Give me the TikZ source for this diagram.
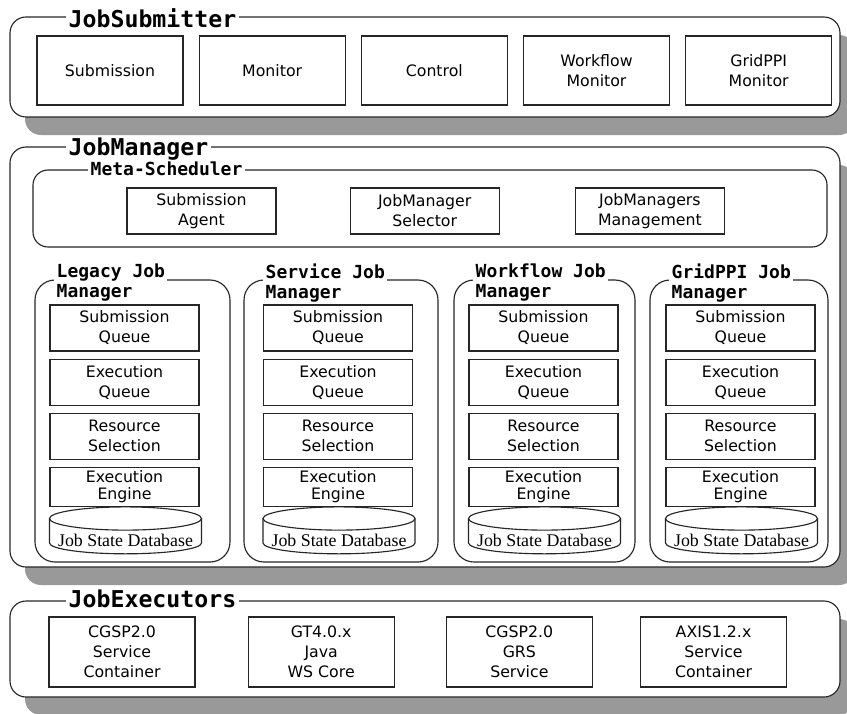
\documentclass[tikz,border=0pt]{standalone}
\usepackage{fontspec}
\setmainfont{DejaVu Sans}
\newfontfamily\titlefont{DejaVu Sans Mono}
\newfontfamily\dbfont{Liberation Serif}
\usetikzlibrary{positioning}
\definecolor{shadowgray}{RGB}{153,153,153}

\begin{document}
\begin{tikzpicture}[x=0.025cm,y=-0.025cm,
  ink/.style={draw=black!85,line width=0.8pt},
  panel/.style={ink,fill=white,rounded corners=0.4cm},
  shadowfill/.style={fill=shadowgray,rounded corners=0.4cm},
  bigtitle/.style={fill=white,inner xsep=0.06cm,inner ysep=0.04cm,anchor=base west,font=\titlefont\bfseries\fontsize{16.5}{18}\selectfont},
  midtitle/.style={bigtitle,font=\titlefont\bfseries\fontsize{12.8}{14.2}\selectfont},
  jmtitle/.style={midtitle,anchor=north west,align=left},
  box/.style={ink,align=center,inner sep=0pt,font=\fontsize{11.2}{14.2}\selectfont},
  jsbox/.style={box,minimum width=3.65cm,minimum height=1.725cm},
  msbox/.style={box,minimum width=3.725cm,minimum height=1.15cm},
  stackbox/.style={box,minimum width=3.725cm,minimum height=1.15cm},
  engbox/.style={stackbox,minimum height=0.975cm,font=\fontsize{11.2}{12.4}\selectfont},
  jebox/.style={box,minimum width=3.65cm,minimum height=1.75cm},
  dbtext/.style={font=\dbfont\fontsize{12.7}{14}\selectfont,inner sep=0pt,anchor=base}]

\useasboundingbox (0,0) rectangle (847,713);
\clip (0,0) rectangle (847,713);

% shadows
\fill[shadowfill] (25,35) rectangle (855,135);
\fill[shadowfill] (25,165) rectangle (855,585);
\fill[shadowfill] (25,619) rectangle (855,715);

% JobSubmitter
\draw[panel] (10,17) rectangle (840,117);
\node[bigtitle] (js) at (66,27) {JobSubmitter};
\node[jsbox] (sub) at (110,70.5) {Submission};
\node[jsbox,right=0.375cm of sub] (mon) {Monitor};
\node[jsbox,right=0.375cm of mon] (ctl) {Control};
\node[jsbox,right=0.375cm of ctl] (wfm) {Workflow\\Monitor};
\node[jsbox,right=0.375cm of wfm] (gpm) {GridPPI\\Monitor};

% JobManager
\draw[panel] (10,147) rectangle (840,567);
\node[bigtitle] (jm) at (66,155) {JobManager};
\draw[panel,rounded corners=0.375cm] (33,170) rectangle (827,247);
\node[midtitle] (ms) at (88,175) {Meta-Scheduler};
\node[msbox] (sa) at (201.5,211) {Submission\\Agent};
\node[msbox,right=1.825cm of sa] (sel) {JobManager\\Selector};
\node[msbox,right=1.875cm of sel] (mgt) {JobManagers\\Management};

\foreach \i/\fl/\fr/\cx/\name in {1/35/230/124.5/{Legacy Job\\Manager},
    2/244/438/338/{Service Job\\Manager},
    3/454/635/543.5/{Workflow Job\\Manager},
    4/650/828/740.5/{GridPPI Job\\Manager}}{
  \draw[panel,rounded corners=0.5cm] (\fl,280) rectangle (\fr,562);
  \node[jmtitle] (jmt\i) at (\fl+19,262) {\name};
  \node[stackbox] (sq\i) at (\cx,328) {Submission\\Queue};
  \node[stackbox,below=0.175cm of sq\i] (eq\i) {Execution\\Queue};
  \node[stackbox,below=0.175cm of eq\i] (rs\i) {Resource\\Selection};
  \node[engbox,below=0.175cm of rs\i] (ee\i) {Execution\\Engine};
  \draw[ink] (\cx+1,518.5) ellipse [x radius=1.9cm,y radius=0.29cm];
  \draw[ink] (\cx-75,518.5) -- (\cx-75,543) arc[start angle=180,end angle=360,x radius=1.9cm,y radius=0.27cm] -- (\cx+77,518.5);
  \node[dbtext] (db\i) at (\cx+1,546) {Job State Database};
}

% JobExecutors
\draw[panel] (10,601) rectangle (840,697);
\node[bigtitle] (je) at (66,607) {JobExecutors};
\node[jebox] (cgsp) at (122,652) {CGSP2.0\\Service\\Container};
\node[jebox,right=1.3cm of cgsp] (gt) {GT4.0.x\\Java\\WS Core};
\node[jebox,right=1.275cm of gt] (grs) {CGSP2.0\\GRS\\Service};
\node[jebox,right=1.175cm of grs] (axis) {AXIS1.2.x\\Service\\Container};
\end{tikzpicture}
\end{document}
